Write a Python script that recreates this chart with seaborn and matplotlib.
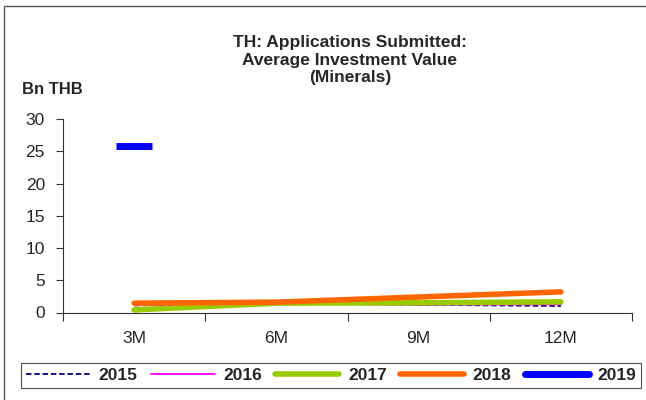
from matplotlib import pyplot as plt
from matplotlib.lines import Line2D
from matplotlib.patches import Rectangle
import seaborn as sns
import pandas as pd
import numpy as np

periods = ['3M', '6M', '9M', '12M']
v2015 = [1.1, 1.4, 1.2, 1.0]
v2016 = [1.2, 1.4, 1.2, 1.25]
v2017 = [0.4, 1.45, 1.5, 1.65]
v2018 = [1.45, 1.6, 2.4, 3.2]
v2019 = [25.8, np.nan, np.nan, np.nan]

years = ['2015', '2016', '2017', '2018', '2019']
colors = ['#000080', '#FF00FF', '#99CC00', '#FF6600', '#0000FF']
widths = [1.3, 1.3, 4, 4, 5]
styles = [(0, (3, 1.6)), '-', '-', '-', '-']

sns.set_theme(style='white')
plt.rcParams['font.family'] = ['Liberation Sans', 'DejaVu Sans']

fig = plt.figure(figsize=(6.46, 4.0), dpi=100)
ax = fig.add_axes([63 / 646, 1 - 312.5 / 400, (632 - 63) / 646, (312.5 - 119) / 400])

series = [v2015, v2016, v2017, v2018, v2019]
for yr, vals, c, lw, ls in zip(years, series, colors, widths, styles):
    df = pd.DataFrame({'period': periods, 'value': vals}).dropna()
    if len(df) > 1:
        sns.lineplot(data=df, x='period', y='value', ax=ax, color=c, lw=lw,
                     linestyle=ls, sort=False, solid_capstyle='round')
    else:
        # single point series shows as a short bar
        sns.lineplot(data=df, x='period', y='value', ax=ax, color=c, lw=0,
                     marker='_', markersize=26, markeredgewidth=5, markeredgecolor=c)

ax.set_xlim(-0.5, 3.5)
ax.set_ylim(0, 30)
ax.set_yticks(range(0, 31, 5))
ax.set_xticks(np.arange(-0.5, 4, 1))
ax.set_xticklabels([])
ax.set_xticks(range(len(periods)), minor=True)
ax.set_xticklabels(periods, minor=True)
ax.tick_params(axis='x', which='major', direction='out', length=6, width=0.8, color='#333333', bottom=True)
ax.tick_params(axis='x', which='minor', length=0, pad=13, labelsize=12.5)
ax.tick_params(axis='y', direction='out', length=5, width=0.8, color='#333333', left=True, labelsize=12.5, pad=8)
ax.set_xlabel('')
ax.set_ylabel('')
for s in ['top', 'right']:
    ax.spines[s].set_visible(False)
for s in ['left', 'bottom']:
    ax.spines[s].set_color('#333333')
    ax.spines[s].set_linewidth(0.8)
ax.grid(False)

fig.text(350 / 646, 1 - 60 / 400, 'TH: Applications Submitted:\nAverage Investment Value\n(Minerals)',
         ha='center', va='center', fontsize=12.5, fontweight='bold', linespacing=1.2)
fig.text(22 / 646, 1 - 90 / 400, 'Bn THB', ha='left', va='center', fontsize=12, fontweight='bold')

handles = [Line2D([], [], color=c, lw=lw, linestyle=ls) for c, lw, ls in zip(colors, widths, styles)]
leg = fig.legend(handles, years, loc='center', ncol=5,
                 bbox_to_anchor=(331 / 646, 1 - 375.5 / 400),
                 prop={'weight': 'bold', 'size': 12.5}, frameon=True, fancybox=False,
                 handlelength=3.7, handletextpad=0.5, columnspacing=0.75,
                 borderpad=0.3, borderaxespad=0)
leg.get_frame().set_edgecolor('#222222')
leg.get_frame().set_linewidth(0.8)

fig.patches.append(Rectangle((4 / 646, -0.1), 1.2, 1 - 6 / 400 + 0.1, transform=fig.transFigure,
                             fill=False, edgecolor='#555555', lw=1))

plt.savefig('out.png', dpi=100)
